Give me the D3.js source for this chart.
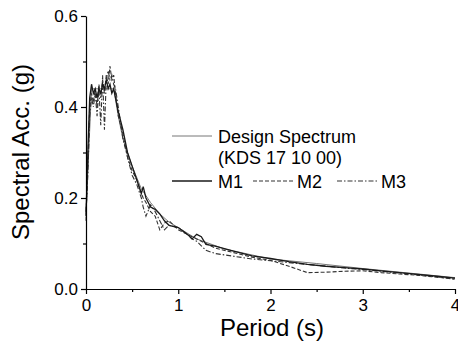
<!DOCTYPE html>
<html>
    <head>
        <meta charset="utf-8">
        <style>
            html, body {
                margin: 0px;
                padding: 0px;
                background-color: #ffffff;
                font-family: "Liberation Sans", Arial, sans-serif;
            }

            .axis text {
                fill: #000;
                font-size: 17px;
                font-family: "Liberation Sans", Arial, sans-serif;
            }

            .axis path, .axis line {
                stroke: #000;
                stroke-width: 1.2;
            }
        </style>
        <script src="https://cdn.jsdelivr.net/npm/d3@7"></script>
    </head>
    <body>
        <div id="main"></div>

        <script>
            // periods (s) and spectral acceleration (g)
            var designT = [0, 0.06, 0.3, 0.35, 0.4, 0.5, 0.6, 0.7, 0.8, 0.9, 1.0, 1.2, 1.5, 2.0, 2.5, 3.0, 3.5, 4.0];
            var designSa = [0.17, 0.44, 0.44, 0.38, 0.33, 0.27, 0.22, 0.19, 0.165, 0.147, 0.135, 0.11, 0.088, 0.066, 0.056, 0.045, 0.035, 0.025];

            var motionT = [0, 0.02, 0.04, 0.06, 0.08, 0.10, 0.12, 0.14, 0.16, 0.18, 0.20, 0.22, 0.24, 0.26, 0.28, 0.30, 0.32, 0.35,
                           0.4, 0.45, 0.5, 0.55, 0.6, 0.62, 0.65, 0.7, 0.75, 0.8, 0.85, 0.9, 1.0, 1.1, 1.15, 1.2, 1.25, 1.3, 1.4,
                           1.6, 1.8, 2.0, 2.2, 2.4, 2.6, 2.8, 3.0, 3.2, 3.4, 3.6, 3.8, 4.0];
            var m1 = [0.16, 0.30, 0.42, 0.45, 0.43, 0.44, 0.42, 0.44, 0.43, 0.45, 0.44, 0.46, 0.44, 0.45, 0.43, 0.44, 0.42, 0.39,
                      0.35, 0.30, 0.27, 0.24, 0.21, 0.225, 0.20, 0.18, 0.175, 0.165, 0.15, 0.14, 0.135, 0.12, 0.11, 0.12, 0.115, 0.098, 0.094,
                      0.083, 0.073, 0.067, 0.060, 0.054, 0.050, 0.047, 0.044, 0.040, 0.036, 0.032, 0.028, 0.024];
            var m2 = [0.15, 0.28, 0.40, 0.43, 0.41, 0.44, 0.40, 0.45, 0.42, 0.46, 0.43, 0.47, 0.45, 0.49, 0.46, 0.47, 0.43, 0.38,
                      0.34, 0.29, 0.26, 0.24, 0.21, 0.20, 0.19, 0.17, 0.16, 0.13, 0.145, 0.15, 0.13, 0.12, 0.115, 0.11, 0.105, 0.10, 0.09,
                      0.080, 0.070, 0.063, 0.050, 0.036, 0.037, 0.039, 0.040, 0.036, 0.033, 0.030, 0.026, 0.022];
            var m3 = [0.17, 0.25, 0.38, 0.42, 0.40, 0.43, 0.38, 0.44, 0.36, 0.47, 0.35, 0.46, 0.48, 0.46, 0.47, 0.45, 0.44, 0.40,
                      0.33, 0.29, 0.25, 0.23, 0.20, 0.18, 0.16, 0.185, 0.17, 0.15, 0.13, 0.14, 0.135, 0.12, 0.11, 0.105, 0.095, 0.085, 0.078,
                      0.072, 0.066, 0.062, 0.058, 0.054, 0.050, 0.046, 0.043, 0.039, 0.035, 0.031, 0.027, 0.021];

            var xTicks = [0, 1, 2, 3, 4];
            var yTicks = [0.0, 0.2, 0.4, 0.6];

            var width = 458;
            var height = 352;
            var margin = {left: 86, right: 3, top: 16, bottom: 63};

            function zip(t, v) {
                return t.map(function(d, i) { return {t: d, v: v[i]}; });
            }

            function main() {
                var svg = d3.select("#main")
                            .append("svg")
                            .attr("width", width)
                            .attr("height", height);

                var x = d3.scaleLinear().domain([0, 4]).range([margin.left, width - margin.right]);
                var y = d3.scaleLinear().domain([0, 0.6]).range([height - margin.bottom, margin.top]);

                var line = d3.line()
                    .x(function(d) { return x(d.t); })
                    .y(function(d) { return y(d.v); });

                var series = [
                    {data: zip(designT, designSa), color: "#666", width: 0.9, dash: null},
                    {data: zip(motionT, m2), color: "#333", width: 1.1, dash: "4,2"},
                    {data: zip(motionT, m3), color: "#333", width: 1.1, dash: "5,2,1.5,2"},
                    {data: zip(motionT, m1), color: "#1a1a1a", width: 1.3, dash: null}
                ];

                series.forEach(function(s) {
                    svg.append("path")
                        .datum(s.data)
                        .attr("fill", "none")
                        .attr("stroke", s.color)
                        .attr("stroke-width", s.width)
                        .attr("stroke-dasharray", s.dash)
                        .attr("d", line);
                });

                // minor ticks
                svg.append("g")
                    .attr("class", "axis")
                    .attr("transform", "translate(0," + y(0) + ")")
                    .call(d3.axisBottom(x).tickValues([0.5, 1.5, 2.5, 3.5]).tickSize(3).tickFormat(""))
                    .select(".domain").remove();
                svg.append("g")
                    .attr("class", "axis")
                    .attr("transform", "translate(" + x(0) + ",0)")
                    .call(d3.axisLeft(y).tickValues([0.1, 0.3, 0.5]).tickSize(3).tickFormat(""))
                    .select(".domain").remove();

                svg.append("g")
                    .attr("class", "axis")
                    .attr("transform", "translate(0," + y(0) + ")")
                    .call(d3.axisBottom(x).tickValues(xTicks).tickSize(5).tickSizeOuter(0).tickPadding(5).tickFormat(d3.format("d")));

                svg.append("g")
                    .attr("class", "axis")
                    .attr("transform", "translate(" + x(0) + ",0)")
                    .call(d3.axisLeft(y).tickValues(yTicks).tickSize(5).tickSizeOuter(0).tickPadding(3).tickFormat(d3.format(".1f")));

                svg.append("text")
                    .attr("x", 272)
                    .attr("y", 336)
                    .attr("text-anchor", "middle")
                    .style("font-size", "24px")
                    .text("Period (s)");

                svg.append("text")
                    .attr("transform", "translate(29," + 152 + ") rotate(-90)")
                    .attr("text-anchor", "middle")
                    .style("font-size", "24px")
                    .text("Spectral Acc. (g)");

                // legend
                var legend = svg.append("g").style("font-size", "18px");
                var items = [
                    {x1: 172, x2: 212, y: 136, tx: 218, label: "Design Spectrum", s: series[0]},
                    {x1: 172, x2: 212, y: 181, tx: 218, label: "M1", s: series[3]},
                    {x1: 253, x2: 295, y: 181, tx: 297, label: "M2", s: series[1]},
                    {x1: 337, x2: 378, y: 181, tx: 381, label: "M3", s: series[2]}
                ];
                items.forEach(function(d) {
                    legend.append("line")
                        .attr("x1", d.x1).attr("x2", d.x2)
                        .attr("y1", d.y).attr("y2", d.y)
                        .attr("stroke", d.s.color)
                        .attr("stroke-width", d.s.width)
                        .attr("stroke-dasharray", d.s.dash);
                    legend.append("text")
                        .attr("x", d.tx)
                        .attr("y", d.y + 6.5)
                        .text(d.label);
                });
                legend.append("text")
                    .attr("x", 218)
                    .attr("y", 164)
                    .text("(KDS 17 10 00)");
            }

            main();
        </script>
    </body>
</html>
